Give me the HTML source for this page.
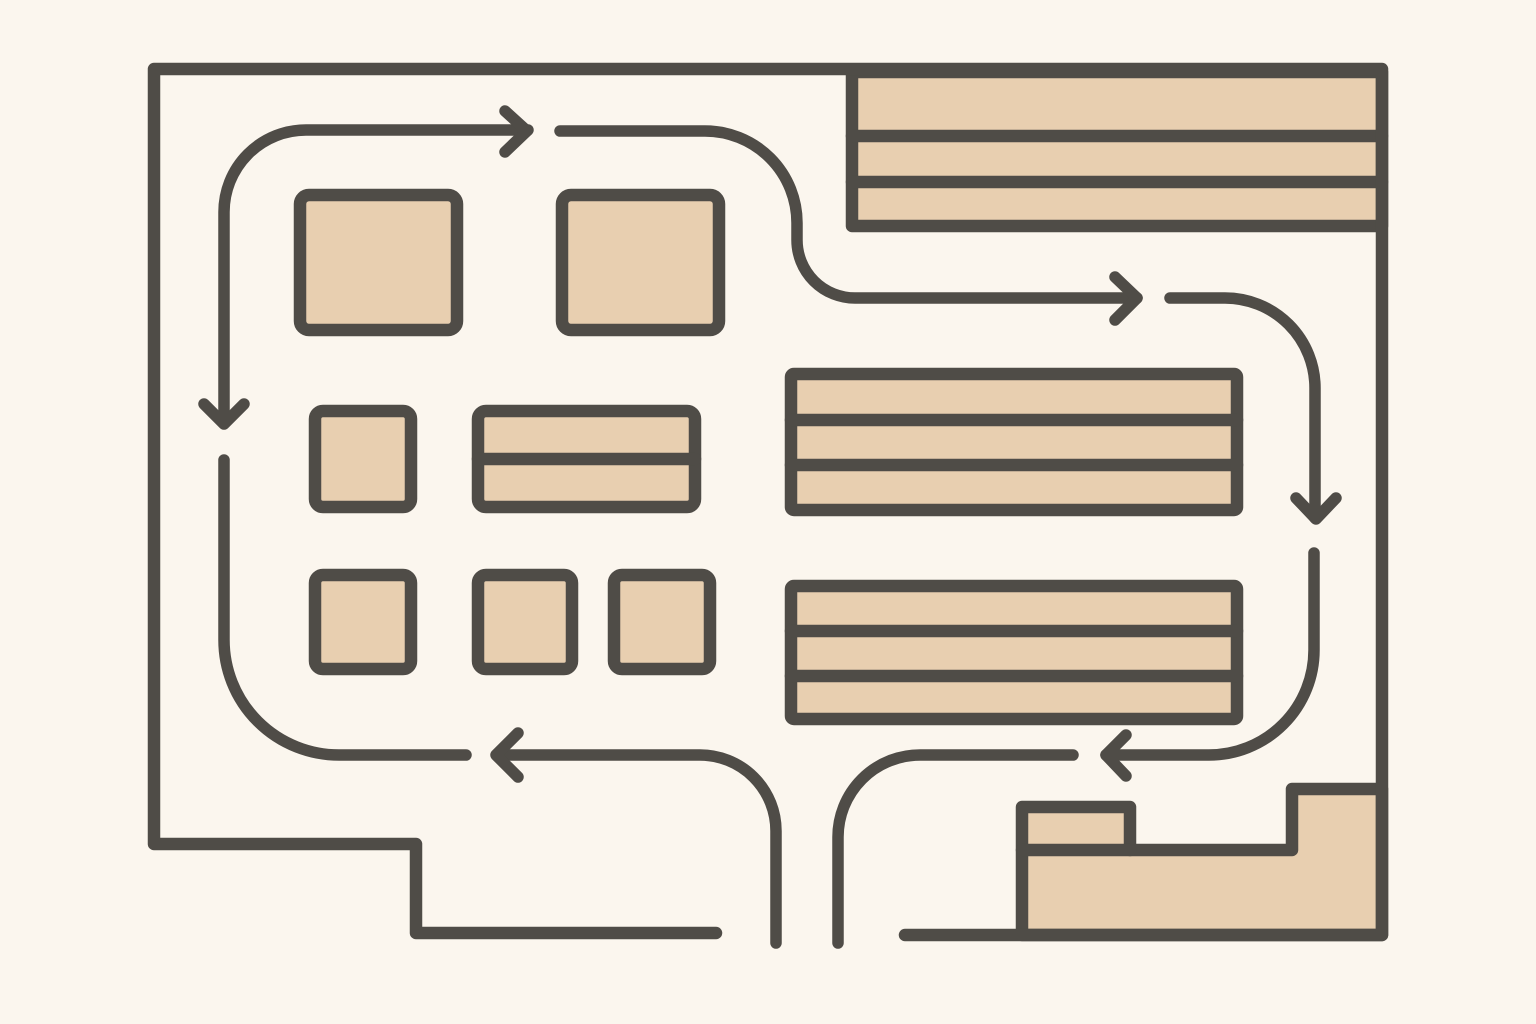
<!DOCTYPE html>
<html><head><meta charset="utf-8"><style>
html,body{margin:0;padding:0;background:#fbf6ee;}
svg{display:block;}
</style></head><body>
<svg width="1536" height="1024" viewBox="0 0 1536 1024" xmlns="http://www.w3.org/2000/svg">
<rect width="1536" height="1024" fill="#fbf6ee"/>
<g stroke="#4f4c47" stroke-width="12.5" stroke-linecap="round" stroke-linejoin="round" fill="#e8cfb0">
<rect x="852" y="72" width="530" height="154" />
<line x1="852" y1="136" x2="1382" y2="136"/>
<line x1="852" y1="182" x2="1382" y2="182"/>
<path d="M1022,935 V807 H1130 V850 H1292 V789 H1382 V935 Z"/>
<line x1="1022" y1="850" x2="1130" y2="850"/>
<path fill="none" d="M716,933 H416 V844 H154 V69 H1382 V935 H905"/>
<rect x="300" y="195" width="157" height="135" rx="9"/>
<rect x="562" y="195" width="157" height="135" rx="9"/>
<rect x="315" y="411" width="96" height="96" rx="8"/>
<rect x="478" y="411" width="217" height="96" rx="8"/>
<line x1="478" y1="459" x2="695" y2="459"/>
<rect x="315" y="575" width="96" height="94" rx="8"/>
<rect x="478" y="575" width="94" height="94" rx="8"/>
<rect x="614" y="575" width="96" height="94" rx="8"/>
<rect x="791" y="374" width="446" height="136" rx="3"/>
<line x1="791" y1="420" x2="1237" y2="420"/>
<line x1="791" y1="465" x2="1237" y2="465"/>
<rect x="791" y="586" width="446" height="133" rx="3"/>
<line x1="791" y1="631" x2="1237" y2="631"/>
<line x1="791" y1="676" x2="1237" y2="676"/>
</g>
<g stroke="#4f4c47" stroke-width="11.5" stroke-linecap="round" stroke-linejoin="round" fill="none">
<path d="M224,420 V212 A82,82 0 0 1 306,130 H528"/>
<path d="M505,111 L527,131 L505,152"/>
<path d="M204,404 L224,424 L244,404"/>
<path d="M224,460 V640 A115,115 0 0 0 339,755 H466"/>
<path d="M500,755 H700 A76,76 0 0 1 776,831 V943"/>
<path d="M518,733 L496,755 L518,777"/>
<path d="M560,131 H705 A92,92 0 0 1 797,223 V240 A58,58 0 0 0 855,298 H1137"/>
<path d="M1115,277 L1137,298 L1115,320"/>
<path d="M1170,298 H1225 A90,90 0 0 1 1315,388 V518"/>
<path d="M1296,498 L1316,519 L1336,498"/>
<path d="M1314,553 V650 A105,105 0 0 1 1209,755 H1106"/>
<path d="M1126,735 L1106,755 L1126,776"/>
<path d="M1073,755 H920 A82,82 0 0 0 838,837 V943"/>
</g>
</svg>
</body></html>
